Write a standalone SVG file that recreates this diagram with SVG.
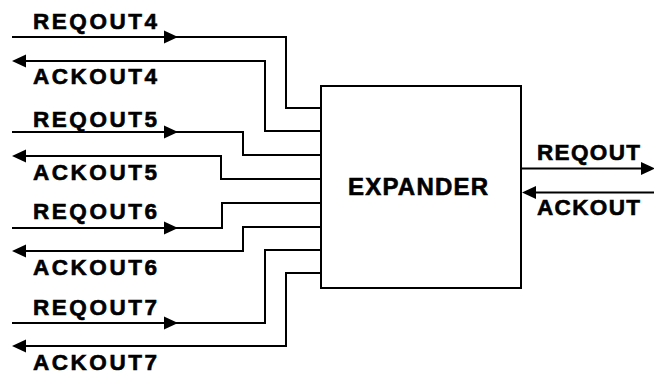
<svg xmlns="http://www.w3.org/2000/svg" xmlns:xlink="http://www.w3.org/1999/xlink" width="654" height="374" viewBox="0 0 654 374">
<style>
.w{fill:none;stroke:#000;stroke-width:2}
.lbl{font-family:"Liberation Sans",Arial,sans-serif;font-weight:bold;font-size:22.5px;fill:#000;stroke:#000;stroke-width:0.6}
.big{font-family:"Liberation Sans",Arial,sans-serif;font-weight:bold;font-size:24px;fill:#000;stroke:#000;stroke-width:0.6}
.box{fill:#fff;stroke:#000;stroke-width:2}
</style>
<defs>
<path id="ahR" d="M0,0 L-14,-6.5 L-14,6.5 Z" fill="#000"/>
<path id="ahL" d="M0,0 L14,-6.5 L14,6.5 Z" fill="#000"/>
</defs>
<rect width="654" height="374" fill="#fff"/>
<g id="connectors">
<path class="w" d="M12,37 H286 V108 H321"/>
<use xlink:href="#ahR" x="178" y="37"/>
<path class="w" d="M321,131 H265 V61 H14"/>
<use xlink:href="#ahL" x="12" y="61"/>
<path class="w" d="M12,132 H243 V155 H321"/>
<use xlink:href="#ahR" x="178" y="132"/>
<path class="w" d="M321,179 H221 V156 H14"/>
<use xlink:href="#ahL" x="12" y="156"/>
<path class="w" d="M12,228 H222 V203 H321"/>
<use xlink:href="#ahR" x="178" y="228"/>
<path class="w" d="M321,227 H243 V251 H14"/>
<use xlink:href="#ahL" x="12" y="251"/>
<path class="w" d="M12,323 H265 V250 H321"/>
<use xlink:href="#ahR" x="178" y="323"/>
<path class="w" d="M321,273 H286 V346 H14"/>
<use xlink:href="#ahL" x="12" y="346"/>
<path class="w" d="M521,168.5 H650"/>
<use xlink:href="#ahR" x="655" y="168.5"/>
<path class="w" d="M654,192.5 H525"/>
<use xlink:href="#ahL" x="522" y="192.5"/>
</g>
<g id="expander">
<rect class="box" x="321" y="86" width="200" height="202"/>
<text class="big" x="348" y="195" textLength="140" lengthAdjust="spacing">EXPANDER</text>
</g>
<g id="labels">
<text class="lbl" x="33" y="29" textLength="124" lengthAdjust="spacing">REQOUT4</text>
<text class="lbl" x="33" y="84" textLength="124" lengthAdjust="spacing">ACKOUT4</text>
<text class="lbl" x="33" y="127" textLength="124" lengthAdjust="spacing">REQOUT5</text>
<text class="lbl" x="33" y="180" textLength="124" lengthAdjust="spacing">ACKOUT5</text>
<text class="lbl" x="33" y="219" textLength="124" lengthAdjust="spacing">REQOUT6</text>
<text class="lbl" x="33" y="275" textLength="124" lengthAdjust="spacing">ACKOUT6</text>
<text class="lbl" x="33" y="315" textLength="124" lengthAdjust="spacing">REQOUT7</text>
<text class="lbl" x="33" y="370" textLength="124" lengthAdjust="spacing">ACKOUT7</text>
<text class="lbl" x="537" y="160" textLength="103" lengthAdjust="spacing">REQOUT</text>
<text class="lbl" x="537" y="215" textLength="103" lengthAdjust="spacing">ACKOUT</text>
</g>
</svg>
